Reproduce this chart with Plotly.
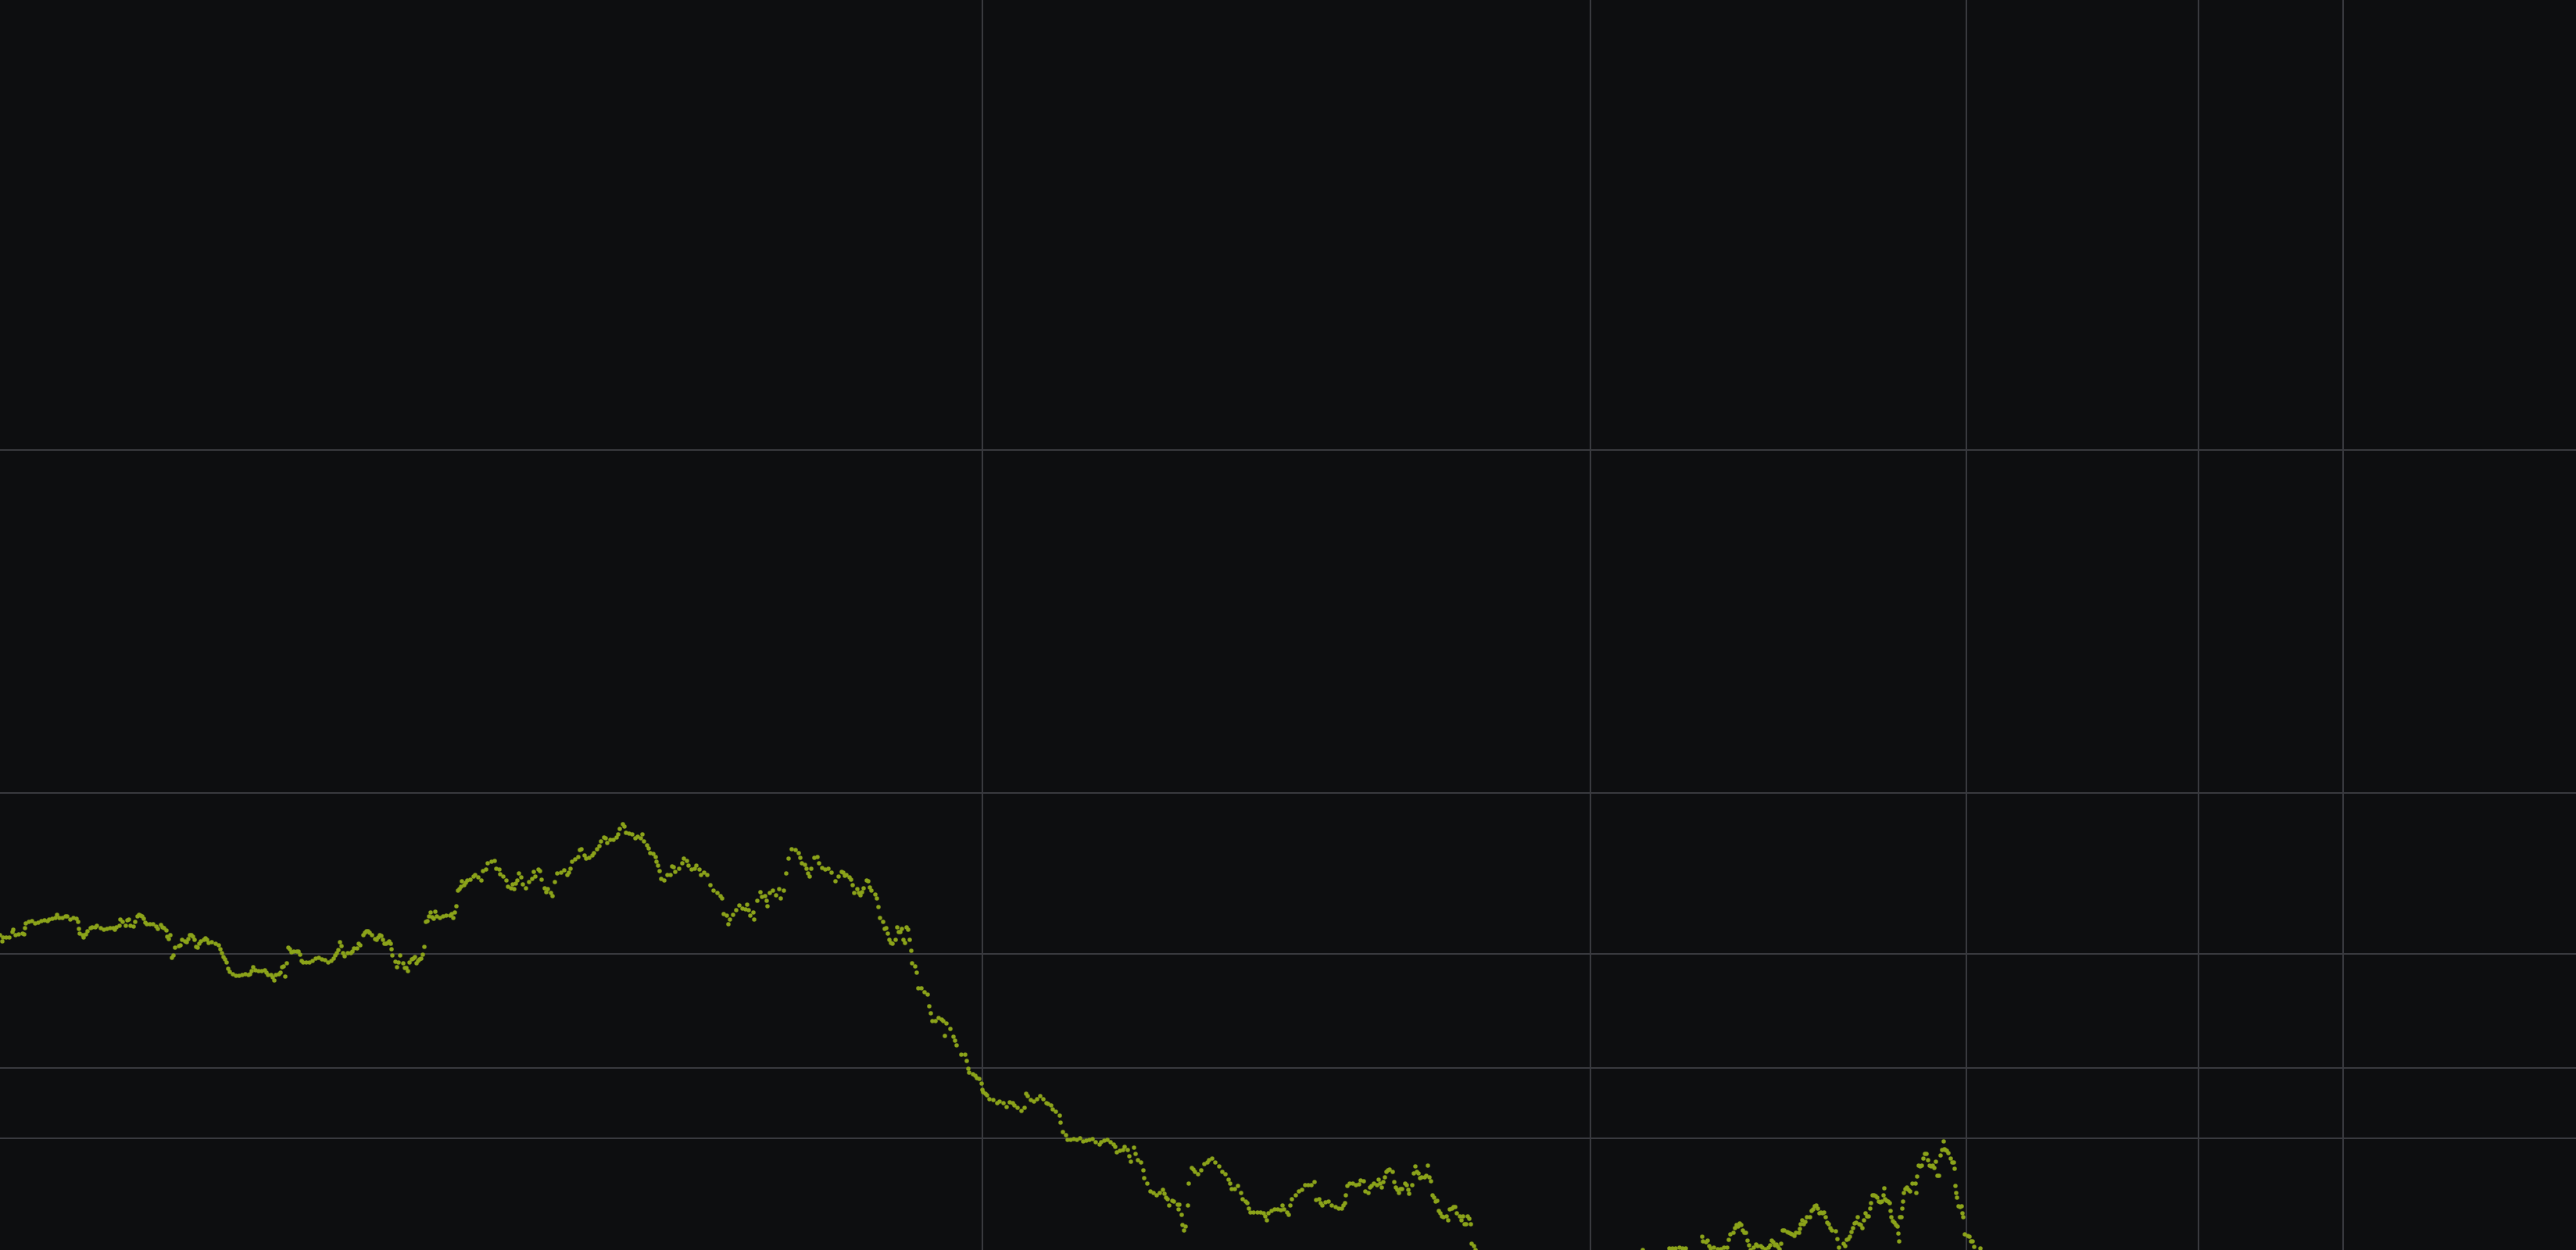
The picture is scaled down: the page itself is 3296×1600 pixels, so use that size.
import plotly.graph_objects as go

# Sample index (t) and value pairs, in four visible stretches
seg_a = [(0,40.3),(3,39.5),(4,40.0),(8,40.0),(12,40.0),(16,40.7),(17,41.0),(20,40.3),(24,40.4),(29,40.5),(31,40.4),(32,41.2),(33,41.8),(37,42.0),(41,42.1),(45,41.8),(49,41.9),(53,42.1),(57,42.2),(61,42.1),(63,42.3),(67,42.4),(71,42.5),(73,42.9),(76,42.5),(80,42.5),(84,42.7),(86,42.7),(90,42.3),(94,42.5),(98,42.4),(100,42.0),(101,41.1),(102,40.5),(106,40.3),(107,40.0),(110,40.4),(112,40.8),(116,41.2),(118,41.3),(122,41.3),(124,41.5),(129,41.2),(133,41.0),(137,41.1),(141,41.2),(145,41.2),(147,41.0),(149,41.3),(153,41.5),(154,42.3),(157,42.0),(161,41.5),(163,42.2),(165,42.3),(167,41.5),(171,41.4),(173,42.0),(176,42.7),(178,42.9),(180,42.8),(182,42.7),(184,42.4),(186,41.9),(188,41.7),(192,41.7),(196,41.7),(200,41.4),(202,41.1),(206,41.6),(208,41.3),(210,41.2),(213,40.9),(214,40.1),(216,39.8),(218,40.3),(220,37.4),(222,37.7),(224,38.7),(229,38.9),(231,39.0),(233,39.7),(237,39.5),(239,39.4),(241,39.8),(243,40.3),(245,40.3),(247,40.1),(249,39.7),(251,38.8),(253,38.7),(255,39.2),(257,39.5),(261,39.7),(263,39.9),(265,39.7),(267,39.3),(271,39.4),(276,39.2),(280,39.0),(282,38.5),(284,38.0),(286,37.5),(288,37.2),(290,36.8),(292,36.0),(294,35.6),(298,35.3),(302,35.1),(306,35.1),(310,35.2),(314,35.3),(318,35.2),(320,35.3),(322,35.7),(324,36.2),(327,35.8),(331,35.7),(335,35.7),(339,35.8),(341,35.5),(343,35.2),(347,35.2),(349,34.9),(351,34.5),(353,35.2),(357,35.3),(359,35.5),(361,36.2),(363,36.3),(365,35.0),(367,36.7),(369,38.7),(371,38.5),(373,38.1),(376,38.2),(380,38.2),(382,38.2),(384,37.8),(386,37.0),(388,36.8),(392,36.8),(396,36.8),(400,37.0),(404,37.3),(408,37.4),(412,37.2),(416,37.1),(420,36.8),(424,37.0),(427,37.3),(429,37.7),(431,38.0),(433,38.4),(435,39.4),(437,38.9),(439,38.0),(441,37.6),(445,38.0),(449,38.0),(451,38.2),(453,38.6),(457,38.6),(459,39.2),(461,39.0),(465,40.3),(467,40.6),(469,40.8),(471,40.8),(473,40.6),(476,40.3),(480,39.8),(482,39.7),(484,40.0),(486,40.3),(488,40.2),(490,39.7),(492,39.2),(494,39.2),(496,39.3),(498,39.5),(500,39.2),(501,38.5),(502,37.7),(506,36.9),(508,36.2),(510,36.8),(512,37.7),(516,36.7),(518,36.1),(520,36.1),(522,35.7),(524,36.8),(527,37.2),(529,37.3),(531,37.5),(533,36.7),(535,37.0),(537,37.2),(539,37.3),(541,37.8),(543,38.8),(545,42.0),(547,42.1),(549,42.7),(551,43.2),(553,42.6),(555,42.4),(557,43.3),(559,42.7),(563,42.5),(567,42.7),(571,42.8),(576,42.8),(578,43.0),(580,42.5),(582,43.2),(584,44.0),(586,46.0),(588,46.2),(590,46.5),(591,47.2),(594,46.7),(596,47.0),(598,47.3),(602,47.4),(606,47.8),(608,48.0),(612,47.7),(616,47.3),(618,48.5),(622,48.7),(624,49.5),(629,49.7),(633,49.8),(635,48.8),(639,48.7)]

seg_b = [(640,48.1),(644,47.8),(648,47.3),(650,46.5),(654,46.3),(656,46.8),(658,46.2),(660,46.9),(662,47.3),(664,48.2),(667,47.7),(669,46.8),(673,46.3),(677,47.1),(681,47.5),(683,48.4),(685,47.8),(689,48.7),(691,48.5),(693,47.4),(697,46.3),(699,45.8),(701,46.2),(705,45.7),(707,45.3),(710,47.1),(713,48.2),(718,48.3),(722,48.6),(726,48.0),(728,48.3),(730,48.8),(732,49.7),(736,50.0),(740,50.3),(742,51.2),(744,51.3),(748,50.5),(750,50.1),(754,50.2),(758,50.5),(760,50.8),(764,51.3),(767,51.7),(769,52.3),(773,52.8),(775,52.7),(777,52.1),(781,52.5),(785,52.5),(789,52.8),(791,53.2),(793,53.9),(797,54.5),(799,54.2),(801,53.4),(805,53.3),(809,53.2),(813,52.7),(816,52.9),(820,52.7),(822,53.2),(824,52.3),(828,51.8),(830,51.4),(832,50.8),(836,50.7),(839,50.3),(840,49.7),(842,49.2),(844,48.5),(846,47.5),(850,47.3),(854,48.0),(858,48.0),(860,49.1),(862,49.0),(864,48.4),(869,48.8),(873,49.5),(875,50.1),(879,49.8),(881,49.2),(885,48.7),(889,48.8),(891,49.2),(895,48.7),(897,48.0),(901,48.3),(905,48.0),(909,46.7),(913,46.0),(918,45.7),(922,45.3),(924,45.0),(926,43.0),(930,42.8),(932,41.7),(934,42.3),(938,42.9),(942,43.5),(946,44.1),(950,43.7),(954,43.6),(956,44.2),(958,43.5),(960,42.8),(964,43.2),(965,42.3),(969,44.7),(973,45.8),(975,45.2),(979,45.3),(981,44.7),(982,44.0),(985,45.7),(989,46.0),(993,45.4),(997,46.2),(999,45.0),(1003,46.0),(1006,48.2),(1009,50.1),(1013,51.3),(1018,51.2),(1022,50.8),(1024,50.2),(1026,49.5),(1030,49.3),(1032,48.8),(1034,48.2),(1036,47.8),(1038,48.8),(1042,50.2),(1046,50.3),(1048,49.5),(1052,48.9),(1056,48.7),(1060,48.8),(1064,48.3),(1069,47.2),(1073,47.8),(1077,48.4),(1079,48.3),(1081,47.9),(1083,48.0),(1087,47.7),(1089,47.4),(1091,46.7),(1093,45.7),(1097,46.2),(1099,45.7),(1101,45.4),(1103,45.8),(1105,46.3),(1109,47.3),(1111,47.2),(1113,46.4),(1115,46.0),(1120,45.5),(1122,45.0),(1124,43.9),(1126,42.5),(1130,42.0),(1132,41.1),(1134,41.2),(1136,40.5),(1138,39.7),(1140,39.3),(1142,39.2),(1146,39.7),(1148,41.3),(1150,40.7),(1152,40.7),(1154,41.1),(1156,39.7),(1158,39.3),(1160,41.3),(1162,41.0),(1164,39.7),(1166,38.3),(1167,36.7),(1171,36.3),(1173,35.5),(1175,33.5),(1179,33.5),(1183,33.0),(1187,32.7),(1189,31.2),(1191,30.3),(1193,29.3),(1197,29.3),(1201,29.7),(1205,29.5),(1207,29.3),(1209,27.4),(1211,29.0),(1216,28.3),(1220,27.3),(1222,26.8),(1224,26.2),(1230,25.0),(1235,25.0),(1237,24.2),(1239,23.2),(1240,22.7),(1245,22.5),(1248,22.3),(1250,22.0),(1253,21.9),(1256,21.3),(1257,20.5),(1258,20.2),(1261,20.0),(1263,19.8),(1266,19.3),(1271,19.2),(1276,18.8),(1279,19.0)]

seg_c = [(1284,18.8),(1288,18.3),(1292,18.9),(1296,18.8),(1298,18.5),(1302,18.2),(1307,17.8),(1311,18.2),(1313,20.0),(1315,19.7),(1319,19.2),(1323,19.0),(1327,19.3),(1331,19.7),(1335,19.3),(1339,18.8),(1341,18.7),(1345,18.5),(1347,18.0),(1351,17.7),(1356,17.2),(1357,16.3),(1360,15.1),(1364,14.7),(1366,14.1),(1370,14.1),(1374,14.2),(1378,14.1),(1382,14.3),(1386,13.9),(1390,14.0),(1394,14.1),(1398,14.2),(1402,13.8),(1407,13.5),(1409,13.8),(1413,14.0),(1417,14.1),(1421,13.8),(1425,13.5),(1427,13.2),(1429,12.5),(1433,12.7),(1437,12.8),(1439,13.2),(1443,12.8),(1445,12.0),(1447,11.3),(1451,13.1),(1453,12.3),(1456,11.5),(1460,11.2),(1463,10.2),(1464,9.2),(1468,8.5),(1472,7.5),(1476,7.3),(1480,7.0),(1484,7.3),(1488,7.7),(1490,7.2),(1492,6.7),(1494,6.5),(1496,5.7),(1500,6.3),(1502,6.2),(1507,5.8),(1508,5.2),(1509,5.8),(1512,4.5),(1513,3.2),(1515,2.5),(1517,3.0),(1520,5.7),(1521,8.5),(1525,10.5),(1527,10.3),(1529,10.0),(1533,9.7),(1537,10.2),(1541,11.0),(1545,11.2),(1547,11.5),(1551,11.7),(1555,11.2),(1560,10.7),(1564,10.0),(1568,9.7),(1572,9.0),(1574,8.5),(1576,7.8),(1580,7.8),(1584,8.2),(1588,7.3),(1590,6.5),(1594,6.2),(1596,6.0),(1598,5.3),(1600,4.8),(1604,4.8),(1609,4.8),(1613,4.8),(1617,4.7),(1619,4.3),(1621,3.8),(1623,4.7),(1627,5.0),(1631,5.2),(1635,5.2),(1639,5.1),(1641,5.7),(1643,5.2),(1647,4.8),(1649,4.5),(1651,5.7),(1653,6.5),(1658,7.0),(1662,7.5),(1666,7.7),(1670,8.3),(1674,8.3),(1678,8.3),(1682,8.7),(1684,6.4),(1688,6.5),(1690,6.0),(1692,5.7),(1696,6.1),(1700,6.2),(1704,5.7),(1709,5.5),(1713,5.3),(1717,5.3),(1719,5.7),(1721,6.0),(1722,7.0),(1724,8.2),(1727,8.5),(1731,8.5),(1735,8.3),(1739,8.4),(1741,8.9),(1745,8.8),(1747,7.5),(1751,7.3),(1753,8.0),(1755,8.2),(1758,8.5),(1762,8.3),(1764,9.0),(1766,8.5),(1768,8.0),(1770,8.7),(1772,9.3),(1774,10.0),(1776,10.2),(1778,10.3),(1782,10.0),(1784,8.7),(1786,8.0),(1788,7.7),(1790,7.3),(1792,7.8),(1794,7.8),(1798,8.5),(1800,8.3),(1802,7.7),(1803,7.2),(1807,8.3),(1809,9.8),(1811,10.7),(1813,10.0),(1815,9.8),(1817,9.2),(1819,9.3),(1823,9.3),(1825,9.5),(1827,10.8),(1829,9.3),(1831,8.8),(1833,7.0),(1835,6.7),(1837,6.2),(1839,6.3),(1841,5.0),(1843,4.7),(1845,4.3),(1847,4.2),(1851,4.3),(1853,3.8),(1855,5.2),(1858,5.3),(1860,5.5),(1862,5.5),(1864,4.7),(1868,4.3),(1870,3.8),(1872,4.3),(1874,3.3),(1876,3.3),(1878,4.3),(1880,4.0),(1882,3.3),(1883,0.8),(1886,0.5),(1888,0.0)]

seg_d = [(2102,0.0),(2136,0.2),(2140,0.2),(2144,0.2),(2149,0.3),(2153,0.2),(2157,0.2),(2178,1.7),(2179,1.1),(2183,1.0),(2185,1.2),(2187,0.5),(2189,0.2),(2193,0.3),(2198,0.1),(2202,0.1),(2206,0.3),(2210,0.3),(2212,1.3),(2214,2.0),(2218,2.2),(2220,2.8),(2222,3.2),(2224,3.0),(2226,3.4),(2228,3.2),(2230,2.5),(2232,2.2),(2234,2.2),(2236,1.2),(2238,0.6),(2240,0.0),(2244,0.3),(2247,0.7),(2249,0.5),(2253,0.5),(2255,0.3),(2259,0.1),(2263,0.3),(2265,0.6),(2267,1.2),(2269,1.0),(2271,0.6),(2273,0.7),(2275,0.4),(2277,0.1),(2279,0.8),(2281,2.5),(2283,2.5),(2287,2.3),(2289,2.2),(2291,2.1),(2293,2.0),(2296,1.8),(2298,2.2),(2302,2.2),(2303,2.7),(2304,3.3),(2306,3.8),(2308,3.3),(2310,3.6),(2312,4.2),(2316,4.2),(2318,5.0),(2320,5.2),(2322,5.6),(2324,5.7),(2326,5.3),(2328,4.7),(2330,4.8),(2332,4.7),(2334,4.8),(2336,4.2),(2338,3.5),(2340,3.3),(2342,2.8),(2344,2.5),(2349,2.4),(2351,1.4),(2353,0.3),(2359,0.8),(2361,0.5),(2363,1.3),(2365,1.4),(2367,1.7),(2369,2.3),(2371,2.8),(2373,3.4),(2375,3.5),(2377,4.2),(2379,3.3),(2381,3.2),(2383,2.8),(2385,3.8),(2387,4.7),(2389,4.3),(2391,4.3),(2393,5.3),(2394,6.0),(2396,7.0),(2398,7.0),(2400,6.9),(2402,6.7),(2404,6.2),(2406,6.1),(2408,6.2),(2410,7.0),(2411,7.9),(2412,6.5),(2414,6.3),(2416,6.2),(2418,6.0),(2419,5.0),(2420,4.2),(2422,3.7),(2424,3.5),(2426,3.2),(2428,3.0),(2429,2.1),(2430,1.1),(2431,4.2),(2433,4.2),(2434,5.3),(2435,6.2),(2436,7.3),(2438,7.8),(2440,8.0),(2442,7.7),(2444,7.5),(2447,8.5),(2451,8.5),(2452,7.3),(2453,9.4),(2455,10.8),(2457,10.7),(2459,10.8),(2461,11.7),(2463,12.3),(2465,12.3),(2467,11.5),(2469,10.8),(2471,10.7),(2473,10.8),(2475,10.5),(2477,11.3),(2479,9.5),(2481,9.5),(2483,12.1),(2485,12.8),(2487,13.9),(2488,12.9),(2489,12.8),(2491,12.7),(2493,12.4),(2496,11.7),(2498,11.2),(2500,11.2),(2501,10.4),(2502,8.2),(2503,7.3),(2504,6.7),(2506,5.6),(2508,5.5),(2510,5.6),(2511,4.7),(2512,4.2),(2514,2.0),(2518,1.8),(2520,1.7),(2522,1.1),(2524,1.1),(2526,0.4),(2534,0.2)]

# Grid positions (no tick labels shown in the reference)
x_grid = [1257, 2035, 2516, 2813, 2998]
y_grid = [102.4, 58.5, 37.9, 23.3, 14.3]
x_range = [0, 3296]
y_range = [0, 160]

points = seg_a + seg_b + seg_c + seg_d
t_vals = [p[0] for p in points]
v_vals = [p[1] for p in points]

BG = "#0d0e10"
GRID = "#393a3f"
DOT = "#8ba31a"

fig = go.Figure()
fig.add_trace(go.Scatter(
    x=t_vals, y=v_vals, mode="markers",
    marker=dict(size=5.5, color=DOT, line=dict(width=0)),
    hoverinfo="skip", showlegend=False,
))

axis_common = dict(showticklabels=False, ticks="", showgrid=True, gridcolor=GRID,
                   gridwidth=2, zeroline=False, showline=False, fixedrange=True)
fig.update_layout(
    width=3296, height=1600,
    margin=dict(l=0, r=0, t=0, b=0, pad=0),
    paper_bgcolor=BG, plot_bgcolor=BG,
    xaxis=dict(range=x_range, tickvals=x_grid, **axis_common),
    yaxis=dict(range=y_range, tickvals=y_grid, **axis_common),
    showlegend=False,
)

fig.write_html("out.html", config={"displayModeBar": False},
               post_script="document.body.style.margin='0';document.body.style.background='#0d0e10';")
